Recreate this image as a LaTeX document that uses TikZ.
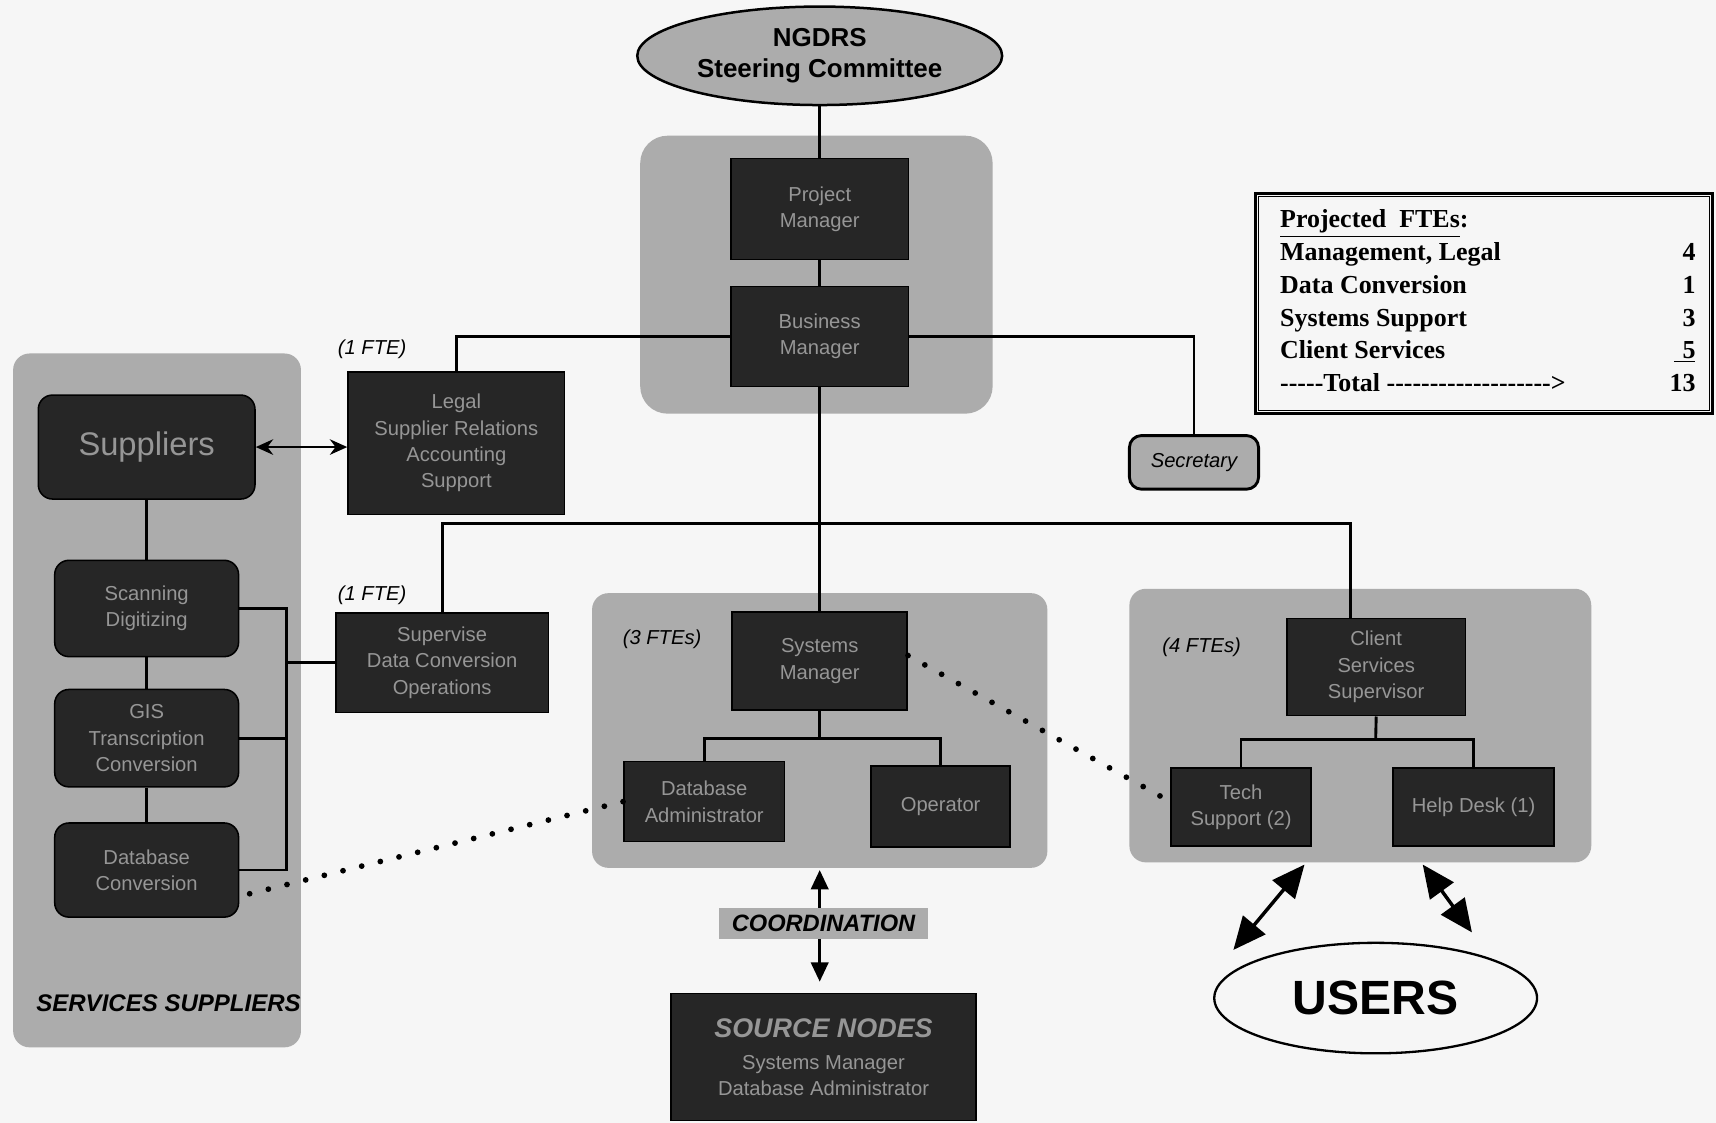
\documentclass[tikz,border=0pt]{standalone}
\usepackage{fontspec}
\setmainfont{Liberation Sans}
\newfontfamily\tms{Liberation Serif}
\usetikzlibrary{shapes.geometric,arrows.meta,calc}
\definecolor{bgc}{RGB}{246,246,246}
\definecolor{grp}{RGB}{172,172,172}
\definecolor{dkc}{RGB}{38,38,38}
\definecolor{dktxt}{RGB}{150,150,150}
\newcommand\mybox[6][]{\node[#1, minimum width={(#4-#2)*0.02cm}, minimum height={(#5-#3)*0.02cm}] (#6) at ({(#2+#4)/2},{(#3+#5)/2})}
\begin{document}
\begin{tikzpicture}[x=0.02cm,y=-0.02cm,
  conn/.style={line width=1.5pt},
  grpbox/.style={fill=grp, inner sep=0pt},
  dkbox/.style={fill=dkc, draw=black, line width=0.8pt, text=dktxt, align=center, inner sep=0pt,
    font=\fontsize{10.5}{13.7}\selectfont},
  rdk/.style={dkbox, rounded corners=0.26cm},
  dotline/.style={line width=3pt, line cap=round, dash pattern=on 0pt off 10pt},
  lbl/.style={font=\fontsize{10.5}{13}\selectfont\itshape},
  bigtip/.style={-{Triangle[length=10pt,width=9pt]}},
  usertip/.style={{Triangle[length=17pt,width=15pt]}-{Triangle[length=17pt,width=15pt]}},
]
\fill[bgc] (0,0) rectangle (1568,1026);
\useasboundingbox (0,0) rectangle (1568,1026);

% group boxes
\mybox[grpbox, rounded corners=0.5cm]{585}{124}{907}{378}{mgmt} {};
\mybox[grpbox, rounded corners=0.3cm]{12}{323}{275}{957}{svc} {};
\mybox[grpbox, rounded corners=0.3cm]{541}{542}{957}{793}{sysg} {};
\mybox[grpbox, rounded corners=0.3cm]{1032}{538}{1454}{788}{clig} {};

% steering committee
\node[ellipse, draw, line width=1.3pt, fill=grp, minimum width=5.84cm, minimum height=1.8cm,
  align=center, font=\fontsize{13.5}{16.5}\selectfont\bfseries] (ngdrs) at (749,51)
  {NGDRS\\Steering Committee};

% management
\mybox[dkbox]{668}{145}{830}{237}{pm} {Project\\Manager};
\mybox[dkbox]{668}{262}{830}{353}{bm} {Business\\Manager};

\mybox[dkbox]{318}{340}{516}{470}{legal} {Legal\\Supplier Relations\\Accounting\\Support};
\node[lbl] (lfte) at (340,319) {(1 FTE)};

\mybox[dkbox, fill=grp, draw=black, line width=1.5pt, text=black,
  font=\fontsize{10.5}{12}\selectfont\itshape, rounded corners=0.22cm]{1032}{398}{1150}{447}{sec} {Secretary};

% FTE table
\mybox[draw, line width=1.6pt, inner sep=0pt]{1147}{177}{1565}{378}{fte} {};
\draw[line width=0.6pt] ([shift={(4,4)}]fte.north west) rectangle ([shift={(-4,-4)}]fte.south east);
\node[font=\tms\bfseries\fontsize{13.5}{17}\selectfont, inner sep=0pt] (ftetab) at (1359.5,277)
{\begin{tabular*}{216pt}{@{}l@{\extracolsep{\fill}}r@{}}
\underline{Projected\ \ FTEs}: & \\
Management, Legal & 4\\
Data Conversion & 1\\
Systems Support & 3\\
Client Services & \underline{\,\,5}\\
-{}-{}-{}-{}-{}Total -{}-{}-{}-{}-{}-{}-{}-{}-{}-{}-{}-{}-{}-{}-{}-{}-{}-{}-{}> & 13
\end{tabular*}};

% services suppliers
\mybox[rdk, font=\fontsize{17}{20}\selectfont]{35}{361}{233}{456}{supp} {Suppliers};
\mybox[rdk]{50}{512}{218}{600}{scan} {Scanning\\Digitizing};
\mybox[rdk]{50}{630}{218}{719}{gis} {GIS\\Transcription\\Conversion};
\mybox[rdk]{50}{752}{218}{838}{db} {Database\\Conversion};
\node[font=\fontsize{12.5}{14}\selectfont\bfseries\itshape] (svcl) at (154,917) {SERVICES SUPPLIERS};

\mybox[dkbox]{307}{560}{501}{651}{supv} {Supervise\\Data Conversion\\Operations};
\node[lbl] (sfte) at (340,544) {(1 FTE)};

% systems group
\mybox[dkbox]{669}{559}{829}{649}{sm} {Systems\\Manager};
\mybox[dkbox]{570}{696}{717}{769}{dba} {Database\\Administrator};
\mybox[dkbox]{796}{700}{923}{774}{op} {Operator};
\node[lbl] (sysfte) at (605,584) {(3 FTEs)};

% client group
\mybox[dkbox]{1176}{565}{1339}{654}{css} {Client\\Services\\Supervisor};
\mybox[dkbox]{1070}{702}{1198}{773}{tech} {Tech\\Support (2)};
\mybox[dkbox]{1273}{702}{1420}{773}{help} {Help Desk (1)};
\node[lbl] (clifte) at (1098,591) {(4 FTEs)};

% coordination / source nodes
\mybox[fill=grp, inner sep=0pt, font=\fontsize{12.3}{14}\selectfont\bfseries\itshape]{657}{830}{848}{858}{coord} {COORDINATION};
\mybox[dkbox]{613}{908}{892}{1024}{src}
  {{\fontsize{14}{16}\selectfont\bfseries\itshape SOURCE NODES}\\[3pt]Systems Manager\\Database Administrator};

% users
\node[ellipse, draw, line width=1.2pt, fill=bgc, minimum width=5.9cm, minimum height=2.02cm,
  font=\fontsize{25}{30}\selectfont\bfseries] (users) at (1257,912) {USERS};

% coordinates
\coordinate (bus) at (749,478);
\coordinate (cssin) at (1234,565);
\coordinate (sj) at (749,675);
\coordinate (cj) at (1257,676);
\coordinate (brtop) at (262,556);
\coordinate (brbot) at (262,795);
\coordinate (ua1) at (1192,790);
\coordinate (ua2) at (1127,868);
\coordinate (ub1) at (1300,790);
\coordinate (ub2) at (1345,852);
\coordinate (cup) at (749,795);
\coordinate (cdn) at (749,897);

% connectors
\draw[conn] (ngdrs.south) -- (pm.north);
\draw[conn] (pm.south) -- (bm.north);
\draw[conn] (legal.north) |- (bm.west);
\draw[conn] (bm.east) -| (sec.north);
\draw[conn] (bm.south) -- (sm.north);
\draw[conn] (supv.north) |- (bus) -| (cssin);
\draw[conn] (sm.south) -- (sj);
\draw[conn] (dba.north) |- (sj) -| (op.north);
\draw[conn] (css.south) -- (cj);
\draw[conn] (tech.north) |- (cj) -| (help.north);

\draw[conn] (supp.south) -- (scan.north);
\draw[conn] (scan.south) -- (gis.north);
\draw[conn] (gis.south) -- (db.north);
\draw[conn] (scan.east) -- (brtop) -- (brbot) -- (db.east);
\draw[conn] (gis.east) -- (gis.east -| brtop);
\draw[conn] (supv.west) -- (supv.west -| brtop);

\draw[conn, {Stealth[length=9pt,width=8pt]}-{Stealth[length=9pt,width=8pt]}] (supp.east) -- (supp.east -| legal.west);

\draw[dotline] ([yshift=0.1cm]sm.east) -- ([yshift=0.1cm]tech.west);
\draw[dotline] (dba.west) -- ([shift={(4,23)}]db.east);

\draw[conn, bigtip] (coord.north -| cup) -- (cup);
\draw[conn, bigtip] (coord.south -| cdn) -- (cdn);

\draw[line width=1.8pt, usertip] (ua1) -- (ua2);
\draw[line width=1.8pt, usertip] (ub1) -- (ub2);
\end{tikzpicture}
\end{document}
